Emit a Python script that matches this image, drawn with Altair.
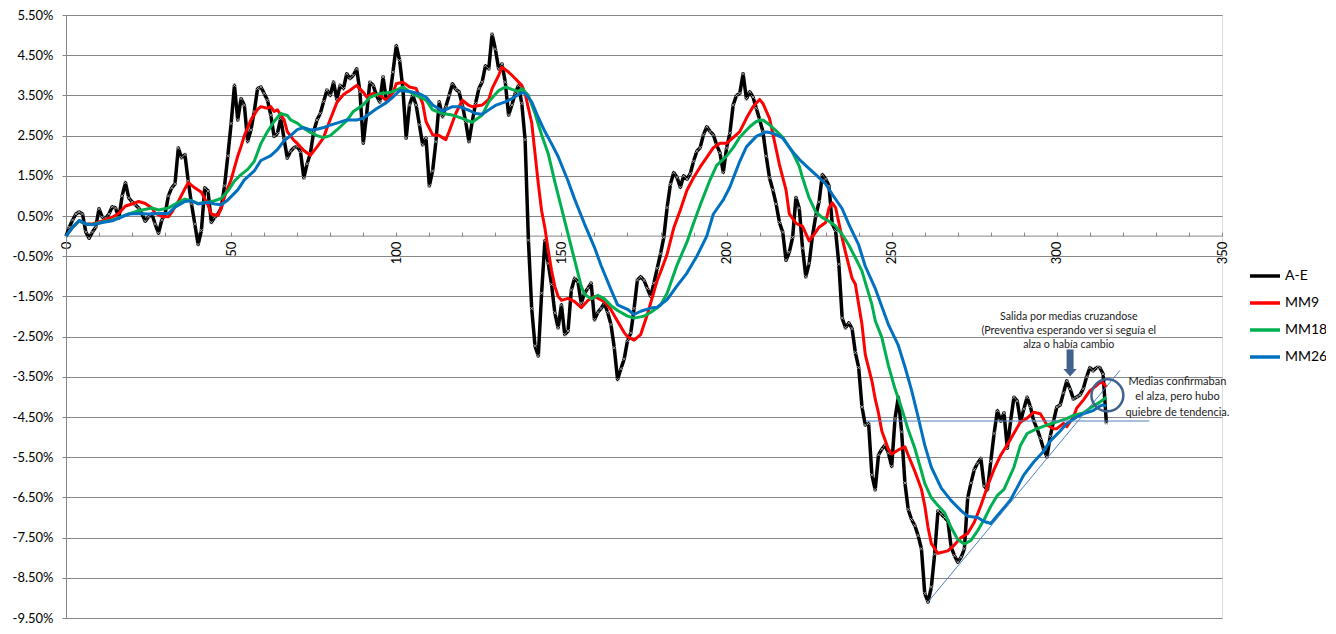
import altair as alt
import pandas as pd

FONT = "Lato"
W, H = 1156, 603
Y_MIN, Y_MAX = -9.5, 5.5
X_MAX = 350
GRID_C = "#868686"

# ---------------- data (values in %) ----------------
series_names = ["A-E", "MM9", "MM18", "MM26"]
series_colors = ["#000000", "#FF0000", "#00B050", "#0070C0"]

ae_v = [
    0.00, 0.22, 0.40, 0.55, 0.60, 0.55, 0.10, -0.05, 0.10, 0.22,
    0.68, 0.47, 0.45, 0.55, 0.73, 0.70, 0.45, 1.00, 1.33, 0.95,
    0.85, 0.78, 0.70, 0.55, 0.37, 0.48, 0.55, 0.30, 0.07, 0.40,
    0.55, 1.00, 1.20, 1.30, 2.19, 1.95, 2.03, 1.37, 0.80, 0.30,
    -0.21, 0.14, 1.20, 1.12, 0.34, 0.47, 0.55, 0.70, 1.25, 2.00,
    2.80, 3.75, 2.89, 3.42, 3.26, 2.35, 2.64, 3.10, 3.67, 3.71,
    3.55, 3.38, 3.01, 2.48, 2.55, 2.93, 2.43, 1.94, 2.11, 2.20,
    2.23, 2.10, 1.45, 1.80, 2.06, 2.60, 2.89, 3.05, 3.35, 3.63,
    3.50, 3.83, 3.40, 3.75, 3.67, 4.04, 3.92, 4.00, 4.16, 3.59,
    2.31, 3.01, 3.83, 3.75, 3.50, 3.34, 3.96, 3.38, 3.46, 4.08,
    4.74, 4.37, 3.67, 2.44, 3.26, 3.50, 3.26, 2.77, 2.27, 2.44,
    1.25, 1.62, 2.35, 3.34, 2.97, 3.22, 3.50, 3.79, 3.65, 3.59,
    3.26, 2.85, 2.35, 2.85, 3.30, 3.67, 3.83, 4.24, 4.16, 5.02,
    4.65, 4.16, 4.28, 3.83, 3.01, 3.26, 3.55, 3.75, 3.30, 2.40,
    -0.10, -1.80, -2.73, -2.98, -1.42, -0.11, -0.68, -1.20, -1.91, -2.28,
    -1.71, -2.45, -2.36, -1.34, -1.05, -1.14, -1.67, -1.42, -1.30, -1.17,
    -2.08, -1.90, -1.80, -1.67, -1.90, -2.20, -2.78, -3.57, -3.30, -3.06,
    -2.60, -2.41, -1.80, -1.09, -1.01, -1.10, -1.30, -1.50, -1.17, -0.80,
    -0.44, -0.03, 0.71, 1.29, 1.58, 1.46, 1.21, 1.50, 1.42, 1.55,
    1.86, 2.11, 2.20, 2.52, 2.72, 2.60, 2.52, 2.27, 2.07, 1.58,
    2.19, 2.56, 3.26, 3.50, 3.55, 4.04, 3.42, 3.59, 3.46, 3.18,
    2.90, 2.60, 1.99, 1.45, 1.15, 0.80, 0.34, 0.10, -0.60, -0.40,
    -0.03, 0.96, 0.70, -0.30, -1.01, -0.68, 0.00, 0.50, 0.85, 1.53,
    1.42, 1.25, 0.30, 0.14, -0.70, -2.04, -2.28, -2.16, -2.30, -2.90,
    -3.27, -4.25, -4.70, -4.66, -5.94, -6.31, -5.44, -5.30, -5.20, -5.40,
    -5.73, -4.54, -4.01, -4.87, -6.14, -6.80, -7.05, -7.20, -7.45, -7.78,
    -8.89, -9.10, -8.73, -7.91, -6.84, -6.92, -7.00, -7.09, -7.74, -7.95,
    -8.11, -7.99, -7.78, -6.51, -6.14, -5.81, -5.65, -5.53, -6.22, -6.31,
    -5.60, -4.91, -4.34, -4.60, -4.40, -5.28, -4.60, -4.01, -4.10, -4.62,
    -4.30, -4.01, -4.24, -4.60, -4.79, -5.03, -5.30, -5.49, -4.98, -4.60,
    -4.25, -4.20, -3.90, -3.60, -3.80, -4.05, -4.00, -3.95, -3.80, -3.50,
    -3.27, -3.35, -3.27, -3.27, -3.43, -4.66,
]
ae_x = list(range(len(ae_v)))

mm9_x = [0, 2, 4, 6, 8, 11, 14, 16, 18, 20, 22, 24, 26, 27, 29, 31, 32, 34, 36, 37,
         39, 41, 43, 44, 46, 47, 48, 50, 52, 53, 54, 56, 58, 59, 61, 62, 63, 64, 66, 67,
         69, 70, 72, 74, 76, 78, 79, 80, 82, 84, 86, 88, 90, 91, 93, 95, 97, 99, 100, 102,
         104, 106, 108, 109, 111, 113, 115, 116, 118, 120, 122, 123, 126, 128, 129, 131, 132, 134, 136, 138,
         139, 140, 141, 142, 143, 144, 145, 146, 147, 148, 149, 150, 152, 154, 156, 158, 160, 163, 165, 167,
         169, 170, 172, 174, 176, 177, 179, 180, 182, 184, 186, 188, 190, 192, 194, 196, 198, 200, 202, 204,
         206, 208, 210, 211, 213, 214, 216, 218, 219, 221, 223, 224, 225, 227, 228, 230, 231, 232, 233, 235,
         236, 238, 239, 240, 241, 242, 244, 245, 246, 247, 249, 250, 252, 254, 255, 257, 259, 260, 261, 262,
         264, 267, 269, 271, 273, 275, 277, 279, 281, 283, 286, 289, 291, 293, 295, 297, 299, 300, 302, 303,
         305, 306, 308, 310, 312, 313, 314, 315]
mm9_v = [0.00, 0.22, 0.38, 0.30, 0.30, 0.38, 0.47, 0.57, 0.75, 0.80, 0.86, 0.81, 0.70, 0.57, 0.49, 0.48, 0.59, 0.86, 1.18, 1.33,
         1.20, 1.09, 0.77, 0.55, 0.51, 0.70, 0.98, 1.41, 1.99, 2.23, 2.50, 2.89, 3.15, 3.22, 3.18, 3.22, 3.10, 3.14, 2.90, 2.60,
         2.38, 2.31, 2.13, 2.01, 2.22, 2.45, 2.68, 2.90, 3.32, 3.52, 3.63, 3.75, 3.58, 3.46, 3.55, 3.50, 3.38, 3.57, 3.79, 3.83,
         3.71, 3.67, 3.30, 2.85, 2.52, 2.50, 2.40, 2.60, 3.05, 3.38, 3.25, 3.22, 3.26, 3.40, 3.67, 4.00, 4.20, 4.08, 3.92, 3.75,
         3.55, 3.18, 2.82, 2.06, 1.30, 0.63, 0.20, -0.35, -0.85, -1.25, -1.50, -1.60, -1.55, -1.63, -1.78, -1.60, -1.50, -1.63, -1.83, -2.12,
         -2.40, -2.50, -2.59, -2.45, -1.95, -1.67, -1.10, -0.90, -0.45, 0.20, 0.65, 1.14, 1.45, 1.72, 1.96, 2.20, 2.31, 2.31, 2.45, 2.60,
         2.93, 3.22, 3.40, 3.30, 2.93, 2.55, 1.78, 1.15, 0.55, 0.32, 0.24, 0.06, -0.12, 0.10, 0.22, 0.34, 0.70, 0.83, 0.71, -0.05,
         -0.40, -1.05, -1.20, -1.70, -2.20, -2.95, -3.60, -4.05, -4.40, -4.85, -5.30, -5.42, -5.32, -5.24, -5.45, -5.85, -6.30, -6.70, -7.25, -7.65,
         -7.89, -7.83, -7.68, -7.50, -7.40, -7.12, -6.70, -6.22, -5.80, -5.45, -5.05, -4.62, -4.53, -4.38, -4.42, -4.70, -4.79, -4.79, -4.66, -4.74,
         -4.50, -4.28, -4.08, -3.85, -3.72, -3.64, -3.65, -3.76]

mm18_x = [0, 2, 4, 6, 8, 11, 14, 16, 19, 22, 26, 28, 31, 34, 36, 38, 40, 43, 45, 47,
          49, 51, 53, 55, 57, 59, 61, 63, 65, 67, 68, 70, 72, 74, 76, 78, 80, 82, 85, 87,
          90, 92, 95, 98, 100, 102, 104, 106, 109, 111, 114, 117, 120, 123, 126, 128, 131, 133, 135, 137,
          138, 140, 142, 144, 146, 148, 150, 152, 154, 156, 157, 159, 161, 163, 165, 167, 170, 172, 175, 177,
          180, 182, 185, 188, 190, 192, 195, 197, 200, 202, 204, 207, 209, 211, 213, 215, 217, 220, 222, 223,
          225, 227, 229, 231, 233, 235, 237, 239, 241, 242, 244, 245, 247, 249, 251, 253, 255, 257, 259, 260,
          262, 264, 266, 268, 270, 272, 274, 276, 278, 280, 282, 284, 287, 289, 291, 294, 297, 300, 303, 305,
          308, 310, 313, 315]
mm18_v = [0.00, 0.22, 0.38, 0.30, 0.29, 0.35, 0.40, 0.46, 0.55, 0.63, 0.70, 0.65, 0.70, 0.84, 0.92, 0.88, 0.81, 0.84, 0.88, 0.94,
          1.12, 1.37, 1.53, 1.66, 1.86, 2.30, 2.60, 2.85, 3.05, 3.00, 2.89, 2.81, 2.68, 2.58, 2.50, 2.45, 2.50, 2.64, 2.87, 3.10,
          3.27, 3.45, 3.55, 3.57, 3.63, 3.71, 3.59, 3.50, 3.38, 3.14, 3.05, 3.01, 2.93, 2.83, 3.01, 3.34, 3.62, 3.71, 3.65, 3.60,
          3.67, 3.50, 3.05, 2.52, 2.05, 1.35, 0.70, 0.05, -0.60, -1.25, -1.45, -1.56, -1.47, -1.56, -1.73, -1.85, -1.99, -2.04, -1.99, -1.90,
          -1.72, -1.42, -0.72, -0.15, 0.32, 0.77, 1.40, 1.76, 1.99, 2.20, 2.46, 2.72, 2.85, 2.89, 2.77, 2.62, 2.46, 2.08, 1.74, 1.45,
          0.95, 0.60, 0.46, 0.37, 0.25, 0.04, -0.22, -0.54, -0.87, -1.15, -1.70, -2.10, -2.52, -3.22, -3.80, -4.28, -4.82, -5.28, -5.85, -6.15,
          -6.51, -6.70, -6.88, -7.25, -7.55, -7.66, -7.57, -7.33, -7.05, -6.72, -6.45, -6.30, -5.75, -5.20, -4.91, -4.79, -4.70, -4.62, -4.54, -4.46,
          -4.40, -4.28, -4.13, -4.01]

mm26_x = [0, 2, 4, 6, 8, 11, 14, 16, 19, 22, 25, 28, 31, 33, 36, 38, 40, 43, 45, 47,
          49, 52, 54, 57, 59, 62, 64, 66, 68, 70, 72, 74, 76, 78, 80, 82, 85, 88, 90, 92,
          94, 97, 99, 101, 104, 107, 109, 111, 114, 117, 119, 122, 124, 126, 128, 130, 133, 135, 138, 139,
          141, 143, 145, 147, 149, 152, 154, 157, 160, 162, 165, 167, 170, 172, 174, 177, 179, 182, 185, 188,
          191, 194, 196, 199, 201, 204, 206, 209, 212, 214, 217, 220, 222, 225, 227, 230, 232, 235, 237, 240,
          242, 245, 247, 249, 252, 254, 256, 258, 260, 262, 265, 268, 271, 273, 276, 278, 280, 282, 284, 286,
          288, 290, 293, 296, 298, 301, 303, 306, 308, 311, 313, 314, 315]
mm26_v = [0.00, 0.22, 0.39, 0.30, 0.28, 0.34, 0.38, 0.45, 0.55, 0.56, 0.55, 0.56, 0.56, 0.72, 0.86, 0.88, 0.80, 0.84, 0.80, 0.78,
          0.90, 1.15, 1.40, 1.62, 1.88, 2.00, 2.15, 2.37, 2.50, 2.65, 2.70, 2.64, 2.66, 2.70, 2.76, 2.81, 2.89, 2.89, 2.93, 3.05,
          3.17, 3.32, 3.46, 3.62, 3.60, 3.54, 3.46, 3.26, 3.11, 3.22, 3.22, 3.13, 3.05, 3.03, 3.14, 3.25, 3.34, 3.42, 3.57, 3.55,
          3.34, 2.95, 2.60, 2.30, 1.98, 1.37, 0.92, 0.30, -0.28, -0.73, -1.33, -1.71, -1.82, -1.95, -1.87, -1.79, -1.77, -1.58, -1.24, -0.92,
          -0.50, 0.00, 0.55, 0.90, 1.22, 1.86, 2.22, 2.48, 2.59, 2.56, 2.44, 2.10, 1.91, 1.68, 1.53, 1.30, 1.04, 0.68, 0.30, -0.22,
          -0.75, -1.30, -1.75, -2.20, -2.72, -3.25, -3.83, -4.50, -5.20, -5.75, -6.27, -6.58, -6.83, -6.97, -7.00, -7.10, -7.15, -6.95, -6.76, -6.56,
          -6.25, -5.94, -5.62, -5.35, -5.10, -4.85, -4.66, -4.50, -4.42, -4.34, -4.23, -4.20, -4.23]

y_ticks = [-9.5, -8.5, -7.5, -6.5, -5.5, -4.5, -3.5, -2.5, -1.5, -0.5, 0.5, 1.5, 2.5, 3.5, 4.5, 5.5]
x_ticks = list(range(0, X_MAX + 1, 10))

# annotations
note1_text = ["Salida por medias cruzandose", "(Preventiva esperando ver si seguía el", "alza o había cambio"]
note1_pos = [303.6, -1.90]
note2_text = ["Medias confirmaban", "el alza, pero hubo", "quiebre de tendencia."]
note2_pos = [336.5, -3.47]
arrow_shaft = [304.0, -2.82, -3.34]
arrow_head = [304.0, -3.40]
circle_pos = [315.3, -3.96]
trend_line = [260.9, -9.11, 319.1, -3.34]
flat_line = [242.4, -4.60, 328.0, -4.60]

# ---------------- chart ----------------
def frame(name, xs, vs):
    return pd.DataFrame({"x": xs, "v": vs, "series": [name] * len(xs)})

x_scale = alt.Scale(domain=[0, X_MAX], nice=False, zero=False)
y_scale = alt.Scale(domain=[Y_MIN, Y_MAX], nice=False, zero=False)

x_axis = alt.Axis(
    values=x_ticks,
    labelExpr="datum.value % 50 === 0 ? datum.label : ''",
    labelAngle=270, labelAlign="right", labelBaseline="middle",
    labelOverlap=False, labelFlush=False, labelBound=False,
    domain=False, grid=False, tickSize=4, tickColor=GRID_C,
    labelPadding=5, offset=-(H * 9.5 / 15) - 4, title=None,
    labelFontSize=13, labelColor="#000000", labelFont=FONT,
)
y_axis = alt.Axis(
    values=y_ticks,
    labelExpr="replace(format(datum.value, '.2f'), '\u2212', '-') + '%'",
    labelOverlap=False, labelFlush=False,
    grid=True, gridColor=GRID_C, gridWidth=1, gridOpacity=1,
    domainColor=GRID_C, tickColor=GRID_C, tickSize=4, labelPadding=9,
    labelFontSize=13, labelColor="#000000", labelFont=FONT, title=None,
)

def X(field="x"):
    return alt.X(f"{field}:Q", scale=x_scale, axis=x_axis)

def Y(field="v"):
    return alt.Y(f"{field}:Q", scale=y_scale, axis=y_axis)

color_enc = alt.Color(
    "series:N",
    scale=alt.Scale(domain=series_names, range=series_colors),
    legend=alt.Legend(
        title=None, orient="none", legendX=1182, legendY=244, padding=0,
        symbolType="stroke", symbolSize=900, symbolStrokeWidth=3.5,
        labelFontSize=14, labelFont=FONT, labelColor="#000000",
        rowPadding=3, labelOffset=3,
    ),
)

zero_line = alt.Chart(pd.DataFrame({"v": [0]})).mark_rule(color=GRID_C, strokeWidth=1).encode(
    y=Y(), x=alt.value(0), x2=alt.value(W),
)

layers = [zero_line]
for name, xs, vs, sw in [("A-E", ae_x, ae_v, 3.5), ("MM9", mm9_x, mm9_v, 3),
                         ("MM18", mm18_x, mm18_v, 3), ("MM26", mm26_x, mm26_v, 3)]:
    layers.append(
        alt.Chart(frame(name, xs, vs)).mark_line(strokeWidth=sw, strokeJoin="round").encode(
            x=X(), y=Y(), color=color_enc
        )
    )
    if name == "A-E":
        layers.append(
            alt.Chart(frame(name, xs, vs)).mark_point(
                shape="M-1,-1L1,1M-1,1L1,-1", size=12, filled=False,
                stroke="#B8B8B8", strokeWidth=0.8, opacity=1,
            ).encode(x=X(), y=Y())
        )

ANN_C = "#4F81BD"
ARROW_C = "#41618F"

lines_df = pd.DataFrame({
    "x": [trend_line[0], flat_line[0]], "v": [trend_line[1], flat_line[1]],
    "x2": [trend_line[2], flat_line[2]], "v2": [trend_line[3], flat_line[3]],
})
layers.append(alt.Chart(lines_df).mark_rule(color=ANN_C, strokeWidth=1).encode(
    x=X(), y=Y(), x2="x2:Q", y2="v2:Q"))

shaft_df = pd.DataFrame({"x": [arrow_shaft[0]], "v": [arrow_shaft[1]], "v2": [arrow_shaft[2]]})
layers.append(alt.Chart(shaft_df).mark_rule(color=ARROW_C, strokeWidth=7).encode(
    x=X(), y=Y(), y2="v2:Q"))
head_df = pd.DataFrame({"x": [arrow_head[0]], "v": [arrow_head[1]]})
layers.append(alt.Chart(head_df).mark_point(
    shape="M-1,-0.55L1,-0.55L0,0.55Z", size=180, filled=True, color=ARROW_C, opacity=1
).encode(x=X(), y=Y()))

circ_df = pd.DataFrame({"x": [circle_pos[0]], "v": [circle_pos[1]]})
layers.append(alt.Chart(circ_df).mark_point(
    shape="circle", size=1018, filled=False, stroke=ARROW_C, strokeWidth=2.5, opacity=1
).encode(x=X(), y=Y()))

notes_df = pd.DataFrame({
    "x": [note1_pos[0]], "v": [note1_pos[1]], "t": ["\n".join(note1_text)]})
layers.append(alt.Chart(notes_df).mark_text(
    font=FONT, fontSize=10.7, lineBreak="\n", lineHeight=13.7, align="center", baseline="top",
    color="#1A1A1A").encode(x=X(), y=Y(), text="t:N"))
notes2_df = pd.DataFrame({
    "x": [note2_pos[0]], "v": [note2_pos[1]], "t": ["\n".join(note2_text)]})
layers.append(alt.Chart(notes2_df).mark_text(
    font=FONT, fontSize=11, lineBreak="\n", lineHeight=15.5, align="center", baseline="top",
    color="#1A1A1A").encode(x=X(), y=Y(), text="t:N"))

chart = alt.layer(*layers).properties(
    width=W, height=H,
    autosize=alt.AutoSizeParams(type="none"),
    padding={"left": 58, "top": 7, "right": 104, "bottom": 7},
    background="white",
).configure_view(stroke=None).configure(font=FONT)

chart.save("out.html", embed_options={"renderer": "svg", "actions": False})
